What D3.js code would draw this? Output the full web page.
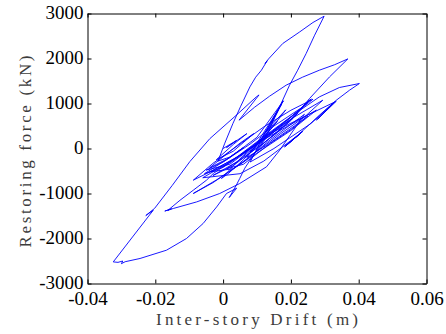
<!DOCTYPE html>
<html>
<head>
<meta charset="utf-8">
<script src="https://d3js.org/d3.v7.min.js"></script>
<style>
  body { margin: 0; background: #fff; }
</style>
</head>
<body>
<svg id="chart" width="446" height="334"></svg>
<script>
// axis ticks and titles
const xTicks = [-0.04, -0.02, 0, 0.02, 0.04, 0.06];
const yTicks = [-3000, -2000, -1000, 0, 1000, 2000, 3000];
const xTitle = 'Inter-story Drift (m)';
const yTitle = 'Restoring force (kN)';

// response history as [drift (m), force (kN)]
const earlyCycles = [
  [0, 0], [0.004, 180], [0.001, 20], [0.007, 330], [0.003, 90], [-0.002, -250],
  [0.003, -60], [0.009, 330], [0.005, 120], [-0.004, -430], [0.001, -240],
  [0.006, 20], [0.002, -190], [-0.0015, -280]
];
const riseToPeak = [
  [0.0005, 118], [0.0029, 556], [0.0052, 940], [0.0079, 1369], [0.0096, 1584],
  [0.0113, 1740], [0.0130, 1950], [0.0124, 1890], [0.0134, 1990], [0.0176, 2333],
  [0.0226, 2591], [0.0265, 2800], [0.0298, 2940]
];
const descentToMin = [
  [0.0270, 2518], [0.0245, 2111], [0.0220, 1740], [0.0196, 1407], [0.0173, 1029],
  [0.0152, 696], [0.0128, 258], [0.0093, -104], [0.0064, -438], [0.0049, -667],
  [0.0039, -815], [0.0018, -1090], [0.0040, -882], [0.0010, -1000], [-0.0019, -1298],
  [-0.0059, -1667], [-0.0108, -2000], [-0.0167, -2260], [-0.0245, -2444],
  [-0.0289, -2516], [-0.0300, -2560], [-0.0296, -2500], [-0.0310, -2530], [-0.0324, -2520]
];
const reloadToSecondPeak = [
  [-0.0265, -1945], [-0.0206, -1371], [-0.0228, -1490], [-0.0202, -1330],
  [-0.0150, -820], [-0.0098, -290], [-0.0039, 220], [0.0039, 740], [0.0098, 1147],
  [0.0106, 1190], [0.0047, 629], [0.0093, 918], [0.0137, 1162], [0.0186, 1407],
  [0.0234, 1584], [0.0284, 1740], [0.0329, 1862], [0.0368, 1991]
];
const unloadIntoBand = [
  [0.0314, 1591], [0.0255, 1111], [0.0226, 851], [0.0196, 629], [0.016, 420],
  [0.011, 150], [0.005, -150], [-0.002, -450], [-0.0088, -704]
];
const bandCycles1 = [
  [-0.003, -330], [0.005, 100], [0.012, 480], [0.020, 850], [0.0265, 1095],
  [0.021, 760], [0.014, 350], [0.007, -60], [0.000, -420], [-0.0055, -560],
  [0.002, -200], [0.010, 250], [0.0178, 1060], [0.0140, 560], [0.0105, 120],
  [0.006, -250], [0.0015, -560], [-0.0005, -667], [0.006, -150], [0.013, 300],
  [0.021, 700], [0.0294, 1073], [0.024, 700], [0.017, 330], [0.010, -60],
  [0.004, -400], [-0.003, -760], [-0.0088, -1000], [-0.002, -700], [0.006, -300],
  [0.014, 200], [0.0215, 620], [0.0240, 760]
];
const middleLoop = [
  [0.0167, -38], [0.0128, -407], [0.0049, -778], [-0.0010, -1000], [-0.0078, -1187],
  [-0.0147, -1333], [-0.0172, -1390], [-0.0152, -1340], [-0.0163, -1375],
  [-0.0127, -1149], [-0.0088, -927], [-0.0049, -704], [-0.0029, -556], [0.003, -250],
  [0.010, 150], [0.0206, 740], [0.0284, 1147], [0.0343, 1355], [0.0402, 1444]
];
const thirdUnload = [
  [0.0373, 1296], [0.0334, 1073], [0.0284, 740], [0.0226, 333], [0.0181, 36]
];
const bandCycles2 = [
  [0.0235, 380], [0.0186, 70], [0.0233, 370], [0.0184, 50], [0.0232, 360],
  [0.0120, -280], [0.0050, -560], [-0.0060, -650], [0.002, -300], [0.012, 200],
  [0.0275, 851], [0.020, 400], [0.010, -100], [0.003, -450], [-0.0040, -520],
  [0.004, -200], [0.015, 380], [0.0334, 1051], [0.0275, 629], [0.0329, 1036],
  [0.0280, 660], [0.0325, 1010], [0.026, 560], [0.015, 0], [0.008, -300],
  [0.012, 300], [0.0176, 1050], [0.0125, 330], [0.0080, -80], [0.0180, 560],
  [0.0260, 1100], [0.0200, 700], [0.0100, 100], [0.0050, -150]
];
const bandCycles3 = [
  [0.0120, 250], [0.0160, 600], [0.0125, 380], [0.0185, 860], [0.0140, 420],
  [0.0090, 50], [0.0020, -350], [-0.0050, -480], [0.0000, -300], [0.0080, 100],
  [0.0140, 450], [0.0230, 900], [0.0255, 1080], [0.0200, 620], [0.0120, 120],
  [0.0060, -200], [0.0010, -450], [0.0060, -350], [0.0140, 120], [0.0200, 420],
  [0.0250, 720], [0.0210, 500], [0.0130, 80], [0.0070, -200], [0.0095, 60],
  [0.0172, 980], [0.0120, 200], [0.0040, -300], [-0.0030, -600], [0.0030, -380],
  [0.0090, -40], [0.0160, 350], [0.0220, 780], [0.0175, 480], [0.0100, -20]
];

const history = [].concat(earlyCycles, riseToPeak, descentToMin, reloadToSecondPeak,
  unloadIntoBand, bandCycles1, middleLoop, thirdUnload, bandCycles2, bandCycles3);

const width = 446;
const height = 334;
const margin = { top: 13.5, right: 19.5, bottom: 50.5, left: 87.5 };

const x = d3.scaleLinear().domain([-0.04, 0.06]).range([margin.left, width - margin.right]);
const y = d3.scaleLinear().domain([-3000, 3000]).range([height - margin.bottom, margin.top]);

const svg = d3.select('#chart');
const tickFont = '"Liberation Serif", "Times New Roman", "DejaVu Serif", serif';
const titleFont = '"Liberation Serif", "Times New Roman", serif';

// curve first, axes drawn on top
svg.append('path')
  .datum(history)
  .attr('fill', 'none')
  .attr('stroke', '#0000ff')
  .attr('stroke-width', 0.9)
  .attr('stroke-linejoin', 'round')
  .attr('d', d3.line().x(d => x(d[0])).y(d => y(d[1])));

const fmt = d => String(d);

const gx = svg.append('g')
  .attr('transform', `translate(0,${y(-3000)})`)
  .call(d3.axisBottom(x).tickValues(xTicks).tickSize(-4).tickSizeOuter(0).tickPadding(8).tickFormat(fmt));
const gy = svg.append('g')
  .attr('transform', `translate(${x(-0.04)},0)`)
  .call(d3.axisLeft(y).tickValues(yTicks).tickSize(-4).tickSizeOuter(0).tickPadding(4).tickFormat(fmt));
const gTop = svg.append('g')
  .attr('transform', `translate(0,${y(3000)})`)
  .call(d3.axisTop(x).tickValues(xTicks).tickSize(-4).tickSizeOuter(0).tickFormat(''));
const gRight = svg.append('g')
  .attr('transform', `translate(${x(0.06)},0)`)
  .call(d3.axisRight(y).tickValues(yTicks).tickSize(-4).tickSizeOuter(0).tickFormat(''));

[gx, gy, gTop, gRight].forEach(g => {
  g.attr('font-family', tickFont).attr('font-size', 19);
  g.selectAll('path, line').attr('stroke', '#000').attr('stroke-width', 1);
  g.selectAll('text').attr('fill', '#000');
});
// keep the bottom-left labels from touching
gy.selectAll('text').attr('dy', '0.28em');

// titles: the original uses a serif monospace face, so spread a serif face to the same width
svg.append('text')
  .attr('x', (x(-0.04) + x(0.06)) / 2)
  .attr('y', 325)
  .attr('text-anchor', 'middle')
  .attr('fill', '#3c3c3c')
  .attr('font-family', titleFont)
  .attr('font-size', 17)
  .attr('textLength', 202)
  .attr('lengthAdjust', 'spacing')
  .text(xTitle);

svg.append('text')
  .attr('transform', `translate(31,${(y(-3000) + y(3000)) / 2 + 3}) rotate(-90)`)
  .attr('text-anchor', 'middle')
  .attr('fill', '#3c3c3c')
  .attr('font-family', titleFont)
  .attr('font-size', 17)
  .attr('textLength', 192)
  .attr('lengthAdjust', 'spacing')
  .text(yTitle);
</script>
</body>
</html>
